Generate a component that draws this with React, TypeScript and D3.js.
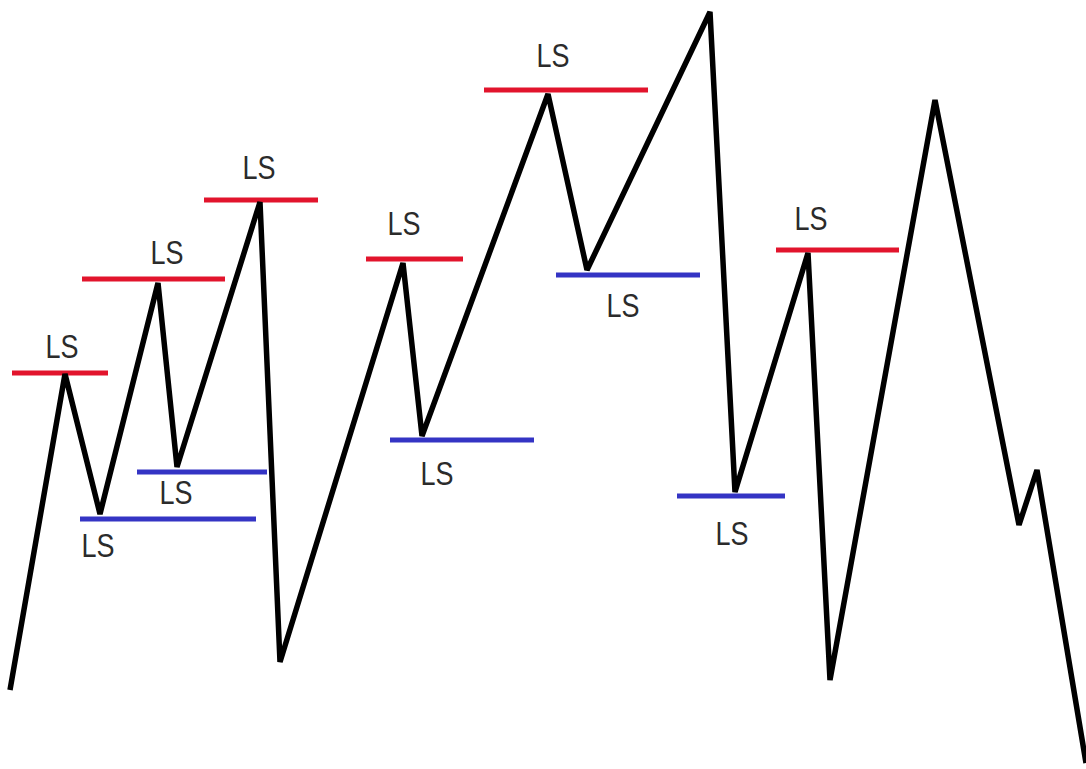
import React from "react";
import * as d3 from "d3";

const W = 1086;
const H = 769;

// zigzag price path: time (x) and price (y, up = higher)
const pathTimes = [10, 65, 100, 158, 177, 260, 280, 403, 422, 548, 587, 710, 735, 808, 830, 935, 1019, 1037, 1086];
const pathPrices = [79, 395, 255, 486, 302, 567, 107, 506, 333, 675, 499, 757, 277, 516, 89, 669, 244, 299, 6];

// liquidity highs (red)
const highStart = [12, 82, 204, 366, 484, 776];
const highEnd = [108, 225, 318, 463, 648, 899];
const highPrice = [396, 490, 569, 510, 679, 519];
const highLabelX = [62, 167, 259, 404, 553, 811];
const highLabelPrice = [411, 505, 590, 534, 702, 539];

// liquidity lows (blue)
const lowStart = [80, 137, 390, 556, 677];
const lowEnd = [256, 267, 534, 700, 785];
const lowPrice = [250, 297, 329, 494, 273];
const lowLabelX = [98, 176, 437, 623, 732];
const lowLabelPrice = [212, 265, 284, 452, 224];

const labelText = "LS";

export default function App() {
  const x = d3.scaleLinear().domain([0, W]).range([0, W]);
  const y = d3.scaleLinear().domain([0, H]).range([H, 0]);
  const pts: [number, number][] = pathTimes.map((t, i) => [t, pathPrices[i]]);
  const line = d3
    .line<[number, number]>()
    .x((d) => x(d[0]))
    .y((d) => y(d[1]));

  const textStyle = {
    fontFamily: "'Liberation Sans', Arial, sans-serif",
    fontSize: 34,
    fill: "#2b2b2b",
  } as const;

  return (
    <svg
      width={W}
      height={H}
      style={{ position: "absolute", left: 0, top: 0, background: "#fff" }}
    >
      <rect x={0} y={0} width={W} height={H} fill="#fff" />
      {highStart.map((s, i) => (
        <line
          key={"h" + i}
          x1={x(s)}
          x2={x(highEnd[i])}
          y1={y(highPrice[i])}
          y2={y(highPrice[i])}
          stroke="#e2142c"
          strokeWidth={5}
        />
      ))}
      {lowStart.map((s, i) => (
        <line
          key={"l" + i}
          x1={x(s)}
          x2={x(lowEnd[i])}
          y1={y(lowPrice[i])}
          y2={y(lowPrice[i])}
          stroke="#3434c4"
          strokeWidth={5}
        />
      ))}
      <path
        d={line(pts) || ""}
        fill="none"
        stroke="#000"
        strokeWidth={5.5}
        strokeLinejoin="miter"
        strokeMiterlimit={3}
      />
      {highLabelX.map((lx, i) => (
        <text
          key={"ht" + i}
          x={x(lx)}
          y={y(highLabelPrice[i])}
          textAnchor="middle"
          textLength={33}
          lengthAdjust="spacingAndGlyphs"
          style={textStyle}
        >
          {labelText}
        </text>
      ))}
      {lowLabelX.map((lx, i) => (
        <text
          key={"lt" + i}
          x={x(lx)}
          y={y(lowLabelPrice[i])}
          textAnchor="middle"
          textLength={33}
          lengthAdjust="spacingAndGlyphs"
          style={textStyle}
        >
          {labelText}
        </text>
      ))}
    </svg>
  );
}
